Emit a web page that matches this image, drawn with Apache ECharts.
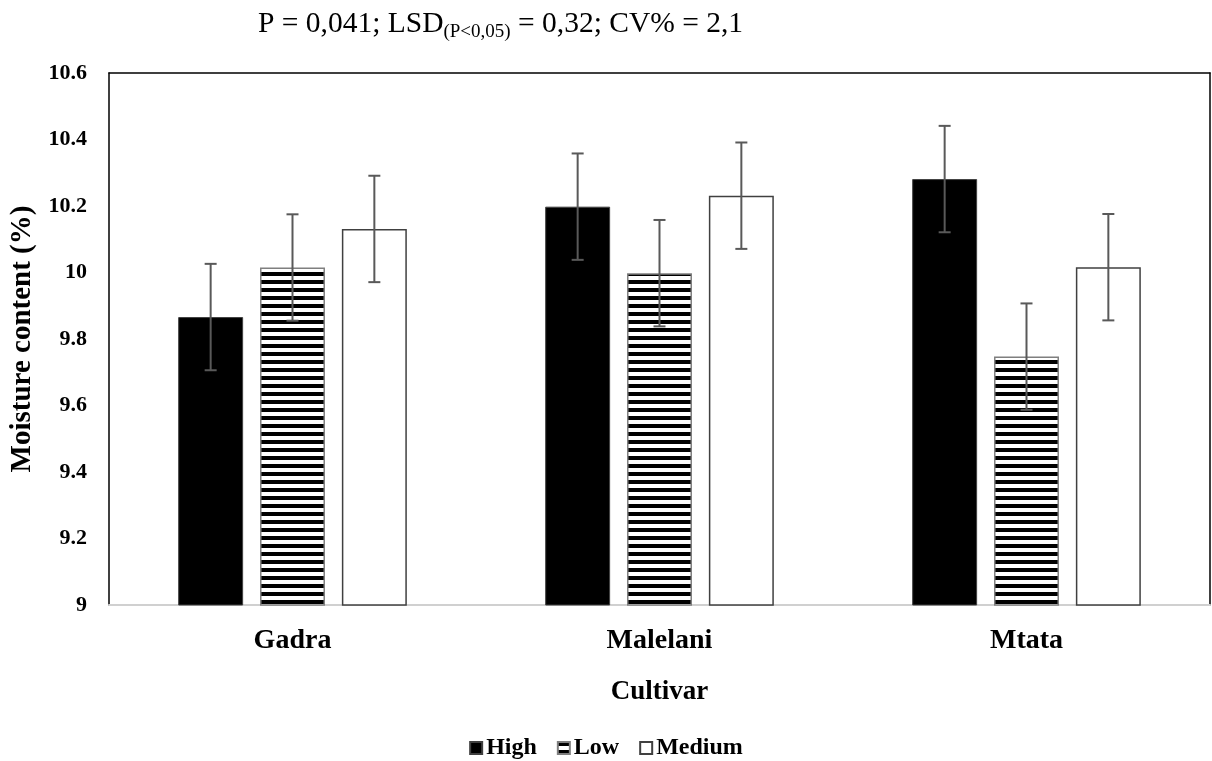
<!DOCTYPE html>
<html>
<head>
<meta charset="utf-8">
<script src="https://cdn.jsdelivr.net/npm/echarts@6/dist/echarts.min.js"></script>
<style>
  html, body { margin: 0; padding: 0; background: #fff; }
  #chart { width: 1212px; height: 761px; }
</style>
</head>
<body>
<div id="chart"></div>
<script>
// Moisture content by cultivar and treatment level
const cultivars = ['Gadra', 'Malelani', 'Mtata'];
const seriesNames = ['High', 'Low', 'Medium'];
const highValues = [9.866, 10.198, 10.281];
const lowValues = [10.015, 9.998, 9.747];
const mediumValues = [10.131, 10.231, 10.016];
const highErrors = [0.16, 0.16, 0.16];
const lowErrors = [0.16, 0.16, 0.16];
const mediumErrors = [0.16, 0.16, 0.16];
const yTicks = [9, 9.2, 9.4, 9.6, 9.8, 10, 10.2, 10.4, 10.6];

const FONT = "'Liberation Serif', 'Times New Roman', serif";

// horizontal black/white stripe fill
function stripePattern() {
  const c = document.createElement('canvas');
  c.width = 8; c.height = 8;
  const ctx = c.getContext('2d');
  ctx.fillStyle = '#fff';
  ctx.fillRect(0, 0, 8, 8);
  ctx.fillStyle = '#000';
  ctx.fillRect(0, 0, 8, 4);
  return c;
}

const BAR_W = 0.177;   // fraction of category band
const GAP = 0.26;      // fraction of bar width

const values = [highValues, lowValues, mediumValues];
const errors = [highErrors, lowErrors, mediumErrors];
const fills = [
  { color: '#000', borderColor: '#404040', borderWidth: 1 },
  { color: { image: stripePattern(), repeat: 'repeat' }, borderColor: '#7f7f7f', borderWidth: 1.5 },
  { color: '#fff', borderColor: '#404040', borderWidth: 1.5 }
];

const barSeries = seriesNames.map((name, i) => ({
  name: name,
  type: 'bar',
  data: values[i],
  barWidth: (BAR_W * 100) + '%',
  barGap: (GAP * 100) + '%',
  itemStyle: fills[i],
  emphasis: { disabled: true },
  z: 2
}));

const errorSeries = seriesNames.map((name, i) => ({
  name: name + ' error',
  type: 'custom',
  data: values[i].map((v, k) => [k, v - errors[i][k], v + errors[i][k]]),
  renderItem: function (params, api) {
    const band = api.size([1, 0])[0];
    const bw = BAR_W * band;
    const off = (i - 1) * (bw + GAP * bw);
    const lo = api.coord([api.value(0), api.value(1)]);
    const hi = api.coord([api.value(0), api.value(2)]);
    const x = lo[0] + off;
    const cap = 6;
    const style = { stroke: '#595959', lineWidth: 2 };
    return {
      type: 'group',
      children: [
        { type: 'line', shape: { x1: x, y1: lo[1], x2: x, y2: hi[1] }, style: style },
        { type: 'line', shape: { x1: x - cap, y1: hi[1], x2: x + cap, y2: hi[1] }, style: style },
        { type: 'line', shape: { x1: x - cap, y1: lo[1], x2: x + cap, y2: lo[1] }, style: style }
      ]
    };
  },
  z: 5,
  silent: true
}));

const chart = echarts.init(document.getElementById('chart'));
chart.setOption({
  animation: false,
  backgroundColor: '#fff',
  title: {
    text: '{a|P = 0,041; LSD}{s|(P<0,05)}{a| = 0,32; CV% = 2,1}',
    left: 253,
    top: 2,
    textStyle: {
      rich: {
        a: { fontFamily: FONT, fontSize: 29.5, color: '#000', fontWeight: 'normal' },
        s: { fontFamily: FONT, fontSize: 19, color: '#000', fontWeight: 'normal', padding: [16, 0, 0, 0] }
      }
    }
  },
  legend: {
    data: seriesNames,
    top: 731,
    left: 'center',
    itemWidth: 12,
    itemHeight: 12,
    itemGap: 20,
    icon: 'rect',
    textStyle: { fontFamily: FONT, fontSize: 24, fontWeight: 'bold', color: '#000', padding: [0, 0, 0, -1] }
  },
  grid: { left: 109, right: 2, top: 73, bottom: 156, containLabel: false },
  xAxis: [
    {
      type: 'category',
      data: cultivars,
      name: 'Cultivar',
      nameLocation: 'middle',
      nameGap: 74,
      nameTextStyle: { fontFamily: FONT, fontSize: 27, fontWeight: 'bold', color: '#000' },
      axisLine: { lineStyle: { color: '#d0d0d0', width: 2 } },
      axisTick: { show: false },
      axisLabel: { fontFamily: FONT, fontSize: 28, fontWeight: 'bold', color: '#000', margin: 22 }
    },
    {
      type: 'category',
      data: cultivars,
      position: 'top',
      axisLine: { lineStyle: { color: '#000', width: 1.5 } },
      axisTick: { show: false },
      axisLabel: { show: false }
    }
  ],
  yAxis: [
    {
      type: 'value',
      min: yTicks[0],
      max: yTicks[yTicks.length - 1],
      interval: 0.2,
      name: 'Moisture content (%)',
      nameLocation: 'middle',
      nameGap: 72,
      nameTextStyle: { fontFamily: FONT, fontSize: 29, fontWeight: 'bold', color: '#000' },
      axisLine: { show: true, lineStyle: { color: '#000', width: 1.5 } },
      axisTick: { show: false },
      splitLine: { show: false },
      axisLabel: {
        fontFamily: FONT, fontSize: 22, fontWeight: 'bold', color: '#000', margin: 22,
        formatter: function (v) { return String(Math.round(v * 10) / 10); }
      }
    },
    {
      type: 'value',
      min: yTicks[0],
      max: yTicks[yTicks.length - 1],
      interval: 0.2,
      position: 'right',
      axisLine: { show: true, lineStyle: { color: '#000', width: 1.5 } },
      axisTick: { show: false },
      splitLine: { show: false },
      axisLabel: { show: false }
    }
  ],
  series: barSeries.concat(errorSeries)
});
</script>
</body>
</html>
